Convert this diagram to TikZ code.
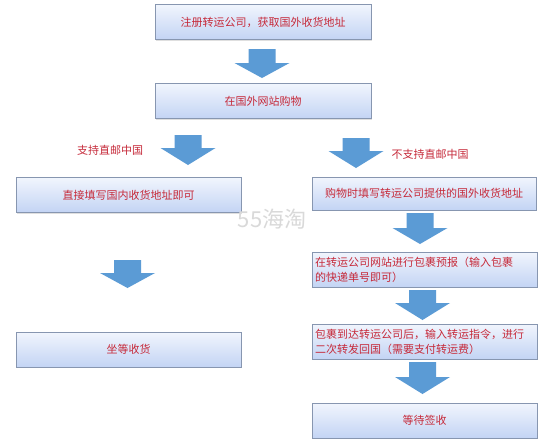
\documentclass[tikz,border=0pt]{standalone}
\usepackage{fontspec}
\newfontfamily\cjk{Noto Sans CJK SC}
\usepackage{tikz}
\usetikzlibrary{positioning,shadows}
\definecolor{boxtop}{HTML}{F1F5FD}
\definecolor{boxbot}{HTML}{C3D4F4}
\definecolor{boxline}{HTML}{8796B0}
\definecolor{txtred}{HTML}{C62A3A}
\definecolor{arrowblue}{HTML}{5B9BD5}
\tikzset{
  stepbox/.style={draw=boxline, line width=0.8pt, top color=boxtop, bottom color=boxbot,
    drop shadow={shadow xshift=1pt, shadow yshift=-1.2pt, opacity=0.25},
    text=txtred, minimum height=35pt, inner sep=2pt},
  lbl/.style={text=txtred}
}

\begin{document}
\begin{tikzpicture}[x=1pt,y=-1pt,every node/.style={font=\cjk\fontsize{11}{15}\selectfont}]
  \useasboundingbox[fill=white] (0,0) rectangle (543,442);
  % 顶部两步
  \node[stepbox, minimum width=216pt] (reg) at (263,22) {注册转运公司，获取国外收货地址};
  \node[stepbox, minimum width=216pt] (shop) at (263,101) {在国外网站购物};
  % 左侧：支持直邮
  \node[lbl] (yes) at (110,150) {支持直邮中国};
  \node[stepbox, minimum width=225pt] (direct) at (128.5,195) {直接填写国内收货地址即可};
  \node[stepbox, minimum width=225pt] (wait) at (128.5,349.5) {坐等收货};
  % 右侧：不支持直邮
  \node[lbl, anchor=west] (no) at (388,154) {不支持直邮中国};
  \node[stepbox, minimum width=224pt, minimum height=33pt] (fill) at (424,193.5) {购物时填写转运公司提供的国外收货地址};
  \node[stepbox, minimum width=225pt, text width=219pt, align=left] (pre) at (424.5,269.5)
    {在转运公司网站进行包裹预报（输入包裹\\的快递单号即可）};
  \node[stepbox, minimum width=225pt, text width=219pt, align=left] (send) at (424.5,341.5)
    {包裹到达转运公司后，输入转运指令，进行\\二次转发回国（需要支付转运费）};
  \node[stepbox, minimum width=225pt] (sign) at (424.5,420.5) {等待签收};
  % 水印
  \node[text=gray!30, font=\cjk\fontsize{22}{24}\selectfont] (wm) at (272,219) {55海淘};
  % 箭头
  \foreach \cx/\t/\h/\e in {262/49/63/78, 188/135/148/165, 356/138/151/168,
      420/213/228/244, 127.5/260/273/288, 422.5/290/303/320, 422.5/362/377/394} {
    \fill[arrowblue] (\cx-13.5,\t) -- (\cx+13.5,\t) -- (\cx+13.5,\h) -- (\cx+27.5,\h)
      -- (\cx,\e) -- (\cx-27.5,\h) -- (\cx-13.5,\h) -- cycle;
  }
\end{tikzpicture}
\end{document}
